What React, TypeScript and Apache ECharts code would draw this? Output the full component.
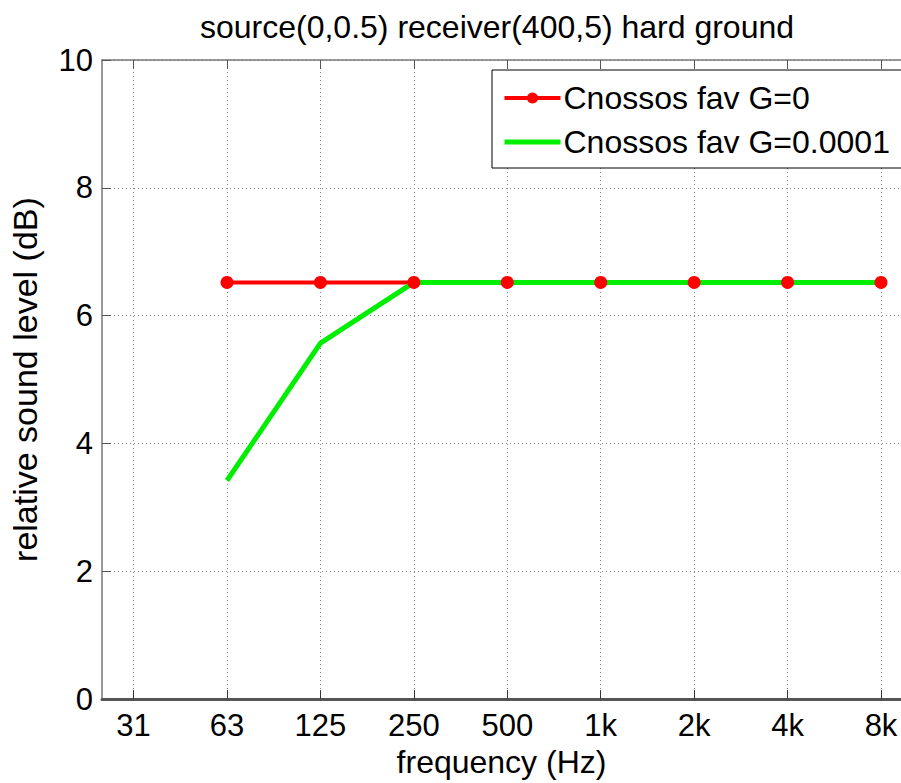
import React, { useEffect, useRef } from "react";
import * as echarts from "echarts";

// Octave-band centre frequencies shown on the x axis (positions 1..9)
const bandLabels = ["31", "63", "125", "250", "500", "1k", "2k", "4k", "8k"];
const bandPositions = [1, 2, 3, 4, 5, 6, 7, 8, 9];

// Relative sound level (dB) per band, starting at 63 Hz
const dataPositions = [2, 3, 4, 5, 6, 7, 8, 9];
const cnossosG0 = [6.52, 6.52, 6.52, 6.52, 6.52, 6.52, 6.52, 6.52];
const cnossosG00001 = [3.42, 5.57, 6.52, 6.52, 6.52, 6.52, 6.52, 6.52];

const yTicks = [0, 2, 4, 6, 8, 10];

const FONT = "'Liberation Sans', Arial, Helvetica, sans-serif";

export default function App() {
  const ref = useRef<HTMLDivElement>(null);

  useEffect(() => {
    if (!ref.current) return;
    const chart = echarts.init(ref.current, null, { renderer: "svg" });

    const pair = (xs: number[], ys: number[]) => xs.map((x, i) => [x, ys[i]]);

    chart.setOption({
      animation: false,
      backgroundColor: "#ffffff",
      textStyle: { fontFamily: FONT, color: "#000" },
      graphic: [
        {
          type: "text",
          x: 497,
          y: 27,
          style: {
            text: "source(0,0.5) receiver(400,5) hard ground",
            fontFamily: FONT,
            fontSize: 32,
            fill: "#000",
            textAlign: "center",
            textVerticalAlign: "middle",
          },
        },
      ],
      grid: { left: 92, right: 0, top: 60, bottom: 73, containLabel: false },
      legend: {
        orient: "vertical",
        left: 492,
        top: 70,
        data: [
          { name: "Cnossos fav G=0", lineStyle: { width: 4 } },
          { name: "Cnossos fav G=0.0001", itemStyle: { opacity: 0 }, lineStyle: { width: 5 } },
        ],
        itemWidth: 56,
        itemHeight: 14,
        itemGap: 12,
        padding: [12, 30, 10, 10],
        backgroundColor: "#fff",
        borderColor: "#000",
        borderWidth: 1,
        textStyle: { fontFamily: FONT, fontSize: 32, color: "#000", padding: [0, 0, 0, -2] },
      },
      xAxis: [
        {
          type: "value",
          min: 0.662,
          max: 9.214,
          position: "bottom",
          name: "frequency (Hz)",
          nameLocation: "middle",
          nameGap: 44,
          nameTextStyle: { fontFamily: FONT, fontSize: 32, color: "#000" },
          axisLine: { show: true, lineStyle: { color: "#555", width: 3 } },
          axisTick: {
            show: true,
            inside: true,
            length: 9,
            customValues: bandPositions,
            lineStyle: { color: "#333", width: 1 },
          },
          axisLabel: {
            customValues: bandPositions,
            margin: 11,
            fontFamily: FONT,
            fontSize: 31,
            color: "#000",
            formatter: (v: number) => bandLabels[Math.round(v) - 1] ?? "",
          },
          splitLine: {
            show: true,
            lineStyle: { color: "#888", width: 1, type: [1, 3] },
          },
        },
        {
          type: "value",
          min: 0.662,
          max: 9.214,
          position: "top",
          axisLine: { show: true, lineStyle: { color: "#777", width: 1.5 } },
          axisTick: {
            show: true,
            inside: true,
            length: 9,
            customValues: bandPositions,
            lineStyle: { color: "#555", width: 1 },
          },
          axisLabel: { show: false },
          splitLine: { show: false },
        },
      ],
      yAxis: {
        type: "value",
        min: 0,
        max: 10,
        interval: 2,
        name: "relative sound level (dB)",
        nameLocation: "middle",
        nameGap: 60,
        nameRotate: 90,
        nameTextStyle: { fontFamily: FONT, fontSize: 34, color: "#000" },
        axisLine: { show: true, lineStyle: { color: "#777", width: 1.5 } },
        axisTick: { show: true, inside: true, length: 9, lineStyle: { color: "#555" } },
        axisLabel: {
          margin: 9,
          fontFamily: FONT,
          fontSize: 31,
          color: "#000",
          customValues: yTicks,
        },
        splitLine: { show: true, lineStyle: { color: "#888", width: 1, type: [1, 3] } },
      },
      series: [
        {
          name: "Cnossos fav G=0",
          type: "line",
          data: pair(dataPositions, cnossosG0),
          symbol: "circle",
          symbolSize: 13,
          showAllSymbol: true,
          lineStyle: { color: "#ff0000", width: 4 },
          itemStyle: { color: "#ff0000" },
        },
        {
          name: "Cnossos fav G=0.0001",
          type: "line",
          data: pair(dataPositions, cnossosG00001),
          symbol: "none",
          lineStyle: { color: "#00ee00", width: 5 },
          itemStyle: { color: "#00ee00" },
        },
      ],
    });

    return () => chart.dispose();
  }, []);

  return (
    <div
      ref={ref}
      style={{ position: "absolute", left: 0, top: 0, width: 901, height: 783 }}
    />
  );
}
